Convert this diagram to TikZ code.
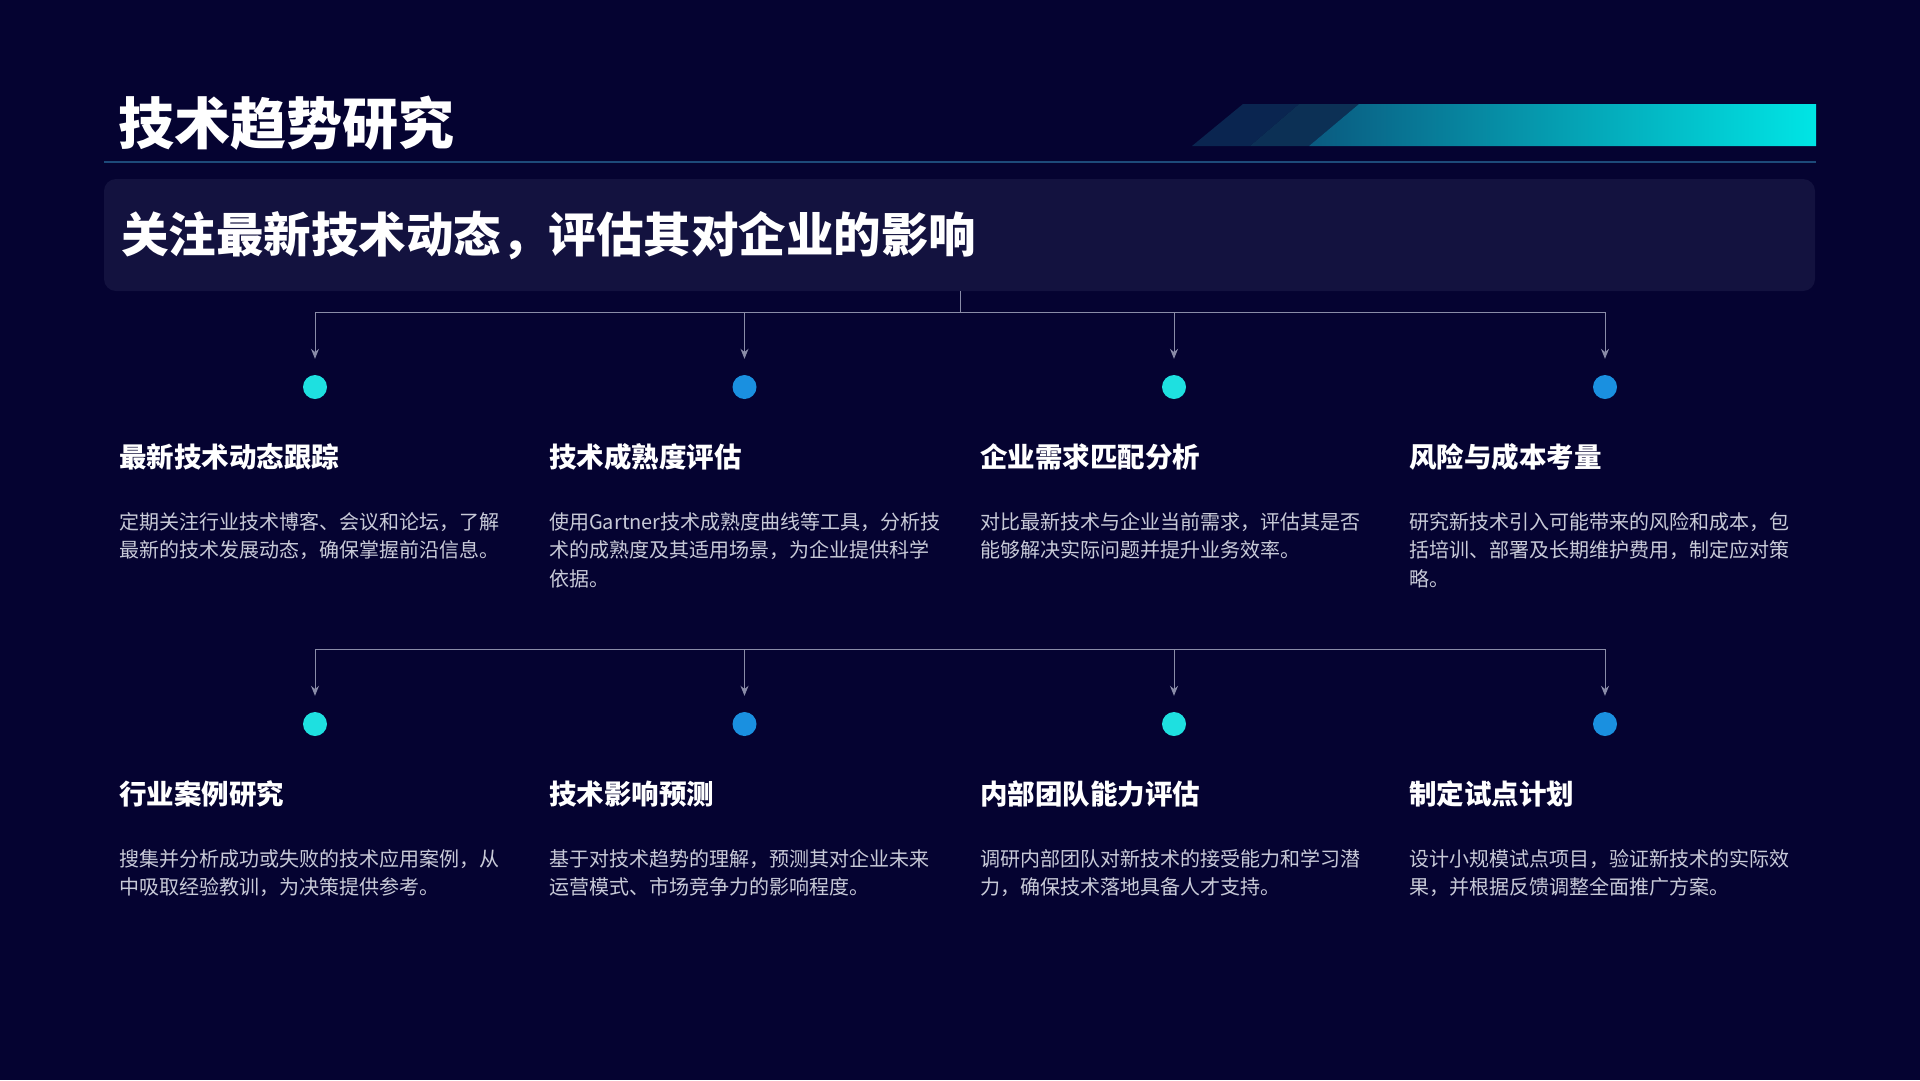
\documentclass[tikz,border=0pt]{standalone}
\usepackage{fontspec}
\setmainfont{Noto Sans CJK SC}
\usetikzlibrary{arrows.meta}
\definecolor{bg}{HTML}{050331}
\definecolor{boxc}{HTML}{13123F}
\definecolor{linec}{HTML}{8A8CA8}
\definecolor{cyanc}{HTML}{1EE0E0}
\definecolor{bluec}{HTML}{1A90E0}
\definecolor{descc}{HTML}{C8CAD8}
\definecolor{hline}{HTML}{1D4A7A}
\definecolor{pa}{HTML}{0A2550}
\definecolor{pb}{HTML}{0C3055}
\definecolor{ga}{HTML}{0A5A80}
\definecolor{gb}{HTML}{00E5E5}
\tikzset{
 conn/.style={draw=linec,line width=1pt},
 arr/.style={conn,-{Stealth[length=10pt,width=8pt]}},
 dotc/.style={circle,fill=cyanc,minimum size=24pt,inner sep=0pt},
 dotb/.style={circle,fill=bluec,minimum size=24pt,inner sep=0pt},
 ttl/.style={anchor=west,text=white,font=\fontsize{27.5}{32}\selectfont\bfseries,inner sep=0pt},
 dsc/.style={anchor=north west,text=descc,font=\fontsize{20}{28.5}\selectfont,align=left,inner sep=0pt},
}
\begin{document}
\begin{tikzpicture}[x=1pt,y=-1pt]
\fill[bg] (0,0) rectangle (1920,1080);
\useasboundingbox (0,0) rectangle (1920,1080);
% header
\node[anchor=west,text=white,font=\fontsize{56}{60}\selectfont\bfseries,inner sep=0pt] (title) at (118,123) {技术趋势研究};
\draw[hline,line width=1.2pt] (104,162) -- (1816,162);
\fill[pa] (1192,146) -- (1243,104) -- (1299,104) -- (1250,146) -- cycle;
\fill[pb] (1250,146) -- (1299,104) -- (1359,104) -- (1309,146) -- cycle;
\shade[left color=ga,right color=gb] (1309,146) -- (1359,104) -- (1816,104) -- (1816,146) -- cycle;
% subtitle box
\fill[boxc,rounded corners=12pt] (104,179) rectangle (1815,291);
\node[anchor=west,text=white,font=\fontsize{47.5}{52}\selectfont\bfseries,inner sep=0pt] (sub) at (121,236) {关注最新技术动态，评估其对企业的影响};
\coordinate (src) at (960,291);
\coordinate (jn) at (960,312);
\foreach \i/\x/\s in {1/315/dotc,2/744.5/dotb,3/1174/dotc,4/1605/dotb}{
  \node[\s] (a\i) at (\x,387) {};
  \coordinate (ta\i) at (\x,312);
  \node[\s] (b\i) at (\x,724) {};
  \coordinate (tb\i) at (\x,649);
}
\draw[conn] (src) -- (jn);
\draw[conn] (ta1) -- (ta4);
\foreach \i in {1,...,4}{\draw[arr] (ta\i) -- ([yshift=16pt]a\i.north);}
\draw[conn] (tb1) -- (tb4);
\foreach \i in {1,...,4}{\draw[arr] (tb\i) -- ([yshift=16pt]b\i.north);}
% row1 texts
\node[ttl] (t1) at (119,457) {最新技术动态跟踪};
\node[ttl] (t2) at (549,457) {技术成熟度评估};
\node[ttl] (t3) at (980,457) {企业需求匹配分析};
\node[ttl] (t4) at (1409,457) {风险与成本考量};
\node[dsc] (d1) at (119,512) {定期关注行业技术博客、会议和论坛，了解\\最新的技术发展动态，确保掌握前沿信息。};
\node[dsc] (d2) at (549,512) {使用Gartner技术成熟度曲线等工具，分析技\\术的成熟度及其适用场景，为企业提供科学\\依据。};
\node[dsc] (d3) at (980,512) {对比最新技术与企业当前需求，评估其是否\\能够解决实际问题并提升业务效率。};
\node[dsc] (d4) at (1409,512) {研究新技术引入可能带来的风险和成本，包\\括培训、部署及长期维护费用，制定应对策\\略。};
% row2 texts
\node[ttl] (t5) at (119,794) {行业案例研究};
\node[ttl] (t6) at (549,794) {技术影响预测};
\node[ttl] (t7) at (980,794) {内部团队能力评估};
\node[ttl] (t8) at (1409,794) {制定试点计划};
\node[dsc] (d5) at (119,849) {搜集并分析成功或失败的技术应用案例，从\\中吸取经验教训，为决策提供参考。};
\node[dsc] (d6) at (549,849) {基于对技术趋势的理解，预测其对企业未来\\运营模式、市场竞争力的影响程度。};
\node[dsc] (d7) at (980,849) {调研内部团队对新技术的接受能力和学习潜\\力，确保技术落地具备人才支持。};
\node[dsc] (d8) at (1409,849) {设计小规模试点项目，验证新技术的实际效\\果，并根据反馈调整全面推广方案。};
\end{tikzpicture}
\end{document}
